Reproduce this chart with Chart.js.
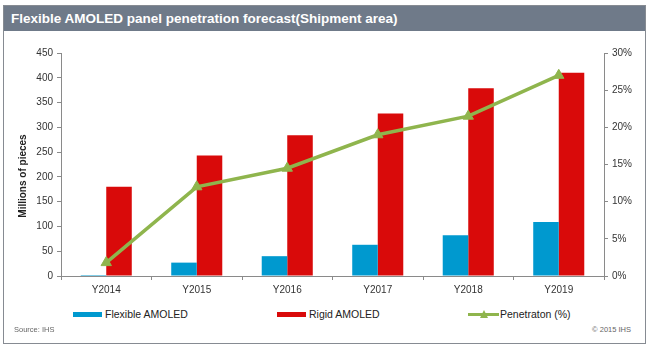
<!DOCTYPE html>
<html>
<head>
<meta charset="utf-8">
<script src="https://cdn.jsdelivr.net/npm/chart.js@4"></script>
<style>
  body { margin: 0; background: #fff; font-family: "Liberation Sans", Arial, sans-serif; }
  #frame { position: absolute; left: 3px; top: 5px; width: 641px; height: 337px; border: 1px solid #868b92; }
  #title { position: absolute; left: 0; top: 0; width: 641px; height: 25px; background: #6f7a89;
           color: #fff; font-weight: bold; font-size: 13.5px; line-height: 25px; padding-left: 7px; box-sizing: border-box; }
  #wrap { position: absolute; left: 0; top: 25px; width: 640px; height: 269px; }
  #ytitle { position: absolute; left: 18px; top: 170px; width: 0; height: 0; }
  #ytitle span { position: absolute; left: 0; top: 0; transform: translate(-50%, -50%) rotate(-90deg);
                 white-space: nowrap; font-weight: bold; font-size: 10px; color: #222; }
  .legend { position: absolute; top: 301px; font-size: 10.5px; color: #222; display: flex; align-items: center; height: 14px; }
  .legend .sw { width: 29px; height: 5px; margin-right: 3px; }
  .legend .ln { position: relative; width: 31px; height: 3px; margin-right: 1px; }
  .legend .tri { position: absolute; left: 12px; top: -3px; width: 0; height: 0;
                 border-left: 4px solid transparent; border-right: 4px solid transparent; border-bottom: 8px solid; }
  .note { position: absolute; top: 319px; font-size: 7.5px; color: #666; }
</style>
</head>
<body>
<div id="frame">
  <div id="title">Flexible AMOLED panel penetration forecast(Shipment area)</div>
  <div id="wrap"><canvas id="chart" width="640" height="269"></canvas></div>
  <div id="ytitle"><span>Millions of pieces</span></div>
  <div class="note" style="left:10px">Source: IHS</div>
  <div class="note" style="right:14px">© 2015 IHS</div>
</div>
<script>
// 연도별 출하 면적 (백만 개) 및 플렉시블 침투율 (%)
const years = ['Y2014', 'Y2015', 'Y2016', 'Y2017', 'Y2018', 'Y2019'];
const flexible = [2, 27, 40, 63, 82, 109];
const rigid = [180, 243, 284, 328, 379, 410];
const penetration = [1.8, 12, 14.5, 19, 21.5, 27];
const seriesNames = ['Flexible AMOLED', 'Rigid AMOLED', 'Penetraton (%)'];
const leftTicks = [0, 50, 100, 150, 200, 250, 300, 350, 400, 450];
const rightTicks = [0, 5, 10, 15, 20, 25, 30];

const blue = '#0099cf';
const red = '#d90a0a';
const green = '#8fb54d';
const axisColor = '#8a8a8a';
const tickFont = { family: '"Liberation Sans", Arial, sans-serif', size: 10 };

const ctx = document.getElementById('chart').getContext('2d');

new Chart(ctx, {
  data: {
    labels: years,
    datasets: [
      {
        type: 'line',
        label: seriesNames[2],
        data: penetration,
        yAxisID: 'y1',
        borderColor: green,
        backgroundColor: green,
        borderWidth: 3.5,
        pointStyle: 'triangle',
        pointRadius: 6,
        pointBorderWidth: 1,
        tension: 0,
        order: 0
      },
      {
        type: 'bar',
        label: seriesNames[0],
        data: flexible,
        yAxisID: 'y',
        backgroundColor: blue,
        categoryPercentage: 0.564,
        barPercentage: 1.0,
        order: 1
      },
      {
        type: 'bar',
        label: seriesNames[1],
        data: rigid,
        yAxisID: 'y',
        backgroundColor: red,
        categoryPercentage: 0.564,
        barPercentage: 1.0,
        order: 1
      }
    ]
  },
  options: {
    responsive: false,
    animation: false,
    layout: { padding: { top: 22, left: 0, right: 0, bottom: 0 } },
    plugins: {
      legend: { display: false },
      tooltip: { enabled: false }
    },
    scales: {
      x: {
        offset: true,
        grid: { offset: true, drawOnChartArea: false, drawTicks: true, tickLength: 4, color: axisColor },
        border: { display: true, color: axisColor },
        ticks: { color: '#333', font: tickFont, padding: 4, maxRotation: 0 },
        afterFit: (scale) => { scale.height = 24; }
      },
      y: {
        position: 'left',
        min: 0,
        max: 450,
        afterBuildTicks: (scale) => { scale.ticks = leftTicks.map(v => ({ value: v })); },
        grid: { drawOnChartArea: false, drawTicks: true, tickLength: 4, color: axisColor },
        border: { display: true, color: axisColor },
        ticks: { color: '#333', font: tickFont, padding: 4 },
        afterFit: (scale) => { scale.width = 57; }
      },
      y1: {
        position: 'right',
        min: 0,
        max: 30,
        afterBuildTicks: (scale) => { scale.ticks = rightTicks.map(v => ({ value: v })); },
        grid: { drawOnChartArea: false, drawTicks: true, tickLength: 4, color: axisColor },
        border: { display: true, color: axisColor },
        ticks: { color: '#333', font: tickFont, padding: 4, callback: (v) => v + '%' },
        afterFit: (scale) => { scale.width = 40; }
      }
    }
  }
});

// 범례 (HTML)
const legendPos = [69, 273, 464];
const legendColors = [blue, red, green];
const frame = document.getElementById('frame');
seriesNames.forEach((name, i) => {
  const item = document.createElement('div');
  item.className = 'legend';
  item.style.left = legendPos[i] + 'px';
  let mark;
  if (i < 2) {
    mark = '<div class="sw" style="background:' + legendColors[i] + '"></div>';
  } else {
    mark = '<div class="ln" style="background:' + green + '"><div class="tri" style="border-bottom-color:' + green + '"></div></div>';
  }
  item.innerHTML = mark + '<span>' + name + '</span>';
  frame.appendChild(item);
});
</script>
</body>
</html>
